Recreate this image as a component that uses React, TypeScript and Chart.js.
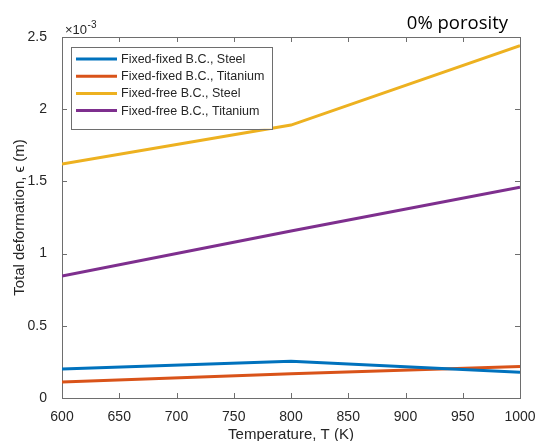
import React, { useEffect, useRef } from "react";
import { Chart, registerables } from "chart.js";

Chart.register(...registerables);

const temperatures = [600, 800, 1000];
const fixedFixedSteel = [0.2, 0.254, 0.178];
const fixedFixedTitanium = [0.111, 0.168, 0.219];
const fixedFreeSteel = [1.62, 1.89, 2.44];
const fixedFreeTitanium = [0.845, 1.157, 1.46];

const seriesLabels = [
  "Fixed-fixed B.C., Steel",
  "Fixed-fixed B.C., Titanium",
  "Fixed-free B.C., Steel",
  "Fixed-free B.C., Titanium",
];
const seriesColors = ["#0072BD", "#D95319", "#EDB120", "#7E2F8E"];
const xTicks = [600, 650, 700, 750, 800, 850, 900, 950, 1000];
const yTicks = [0, 0.5, 1, 1.5, 2, 2.5];

const AXIS_COLOR = "#262626";
const BOX_COLOR = "#6e6e6e";
const FONT = "'Liberation Sans', Arial, Helvetica, sans-serif";

const decorPlugin = {
  id: "decor",
  beforeDatasetsDraw(chart: any) {
    const { ctx, chartArea } = chart;
    const { left, right, top, bottom } = chartArea;
    ctx.save();
    ctx.strokeStyle = BOX_COLOR;
    ctx.lineWidth = 1;
    ctx.strokeRect(Math.round(left) + 0.5, Math.round(top) + 0.5, Math.round(right - left), Math.round(bottom - top));
    const xs = chart.scales.x;
    const ys = chart.scales.y;
    const tl = 5;
    ctx.beginPath();
    xs.ticks.forEach((_t: any, i: number) => {
      const px = Math.round(xs.getPixelForTick(i)) + 0.5;
      ctx.moveTo(px, bottom);
      ctx.lineTo(px, bottom - tl);
      ctx.moveTo(px, top);
      ctx.lineTo(px, top + tl);
    });
    ys.ticks.forEach((_t: any, i: number) => {
      const py = Math.round(ys.getPixelForTick(i)) + 0.5;
      ctx.moveTo(left, py);
      ctx.lineTo(left + tl, py);
      ctx.moveTo(right, py);
      ctx.lineTo(right - tl, py);
    });
    ctx.stroke();
    ctx.restore();
  },
  afterDraw(chart: any) {
    const { ctx, chartArea } = chart;
    const { left, right, top } = chartArea;
    ctx.save();
    // exponent label
    ctx.fillStyle = AXIS_COLOR;
    ctx.textBaseline = "alphabetic";
    ctx.textAlign = "left";
    ctx.font = `13px ${FONT}`;
    const base = "\u00d710";
    ctx.fillText(base, left + 3, top - 3);
    const w = ctx.measureText(base).width;
    ctx.font = `10px ${FONT}`;
    ctx.fillText("-3", left + 3 + w + 0.5, top - 9);

    // panel title
    ctx.font = `18.5px 'Open Sans', 'Noto Sans', sans-serif`;
    ctx.fillStyle = "#000000";
    ctx.textAlign = "right";
    ctx.fillText("0% porosity", right - 12, 29);

    // legend
    const datasets = chart.data.datasets;
    ctx.font = `12.5px ${FONT}`;
    let maxW = 0;
    datasets.forEach((d: any) => {
      maxW = Math.max(maxW, ctx.measureText(d.label).width);
    });
    const bx = left + 9;
    const by = top + 10;
    const rowH = 17.2;
    const bw = 50 + maxW + 8;
    const bh = 8 + rowH * datasets.length + 5;
    ctx.fillStyle = "#ffffff";
    ctx.fillRect(bx, by, bw, bh);
    ctx.strokeStyle = BOX_COLOR;
    ctx.lineWidth = 1;
    ctx.strokeRect(Math.round(bx) + 0.5, Math.round(by) + 0.5, Math.round(bw), Math.round(bh));
    ctx.textAlign = "left";
    ctx.textBaseline = "middle";
    datasets.forEach((d: any, i: number) => {
      const cy = by + 12 + i * rowH;
      ctx.strokeStyle = d.borderColor;
      ctx.lineWidth = 3;
      ctx.beginPath();
      ctx.moveTo(bx + 5, cy);
      ctx.lineTo(bx + 46, cy);
      ctx.stroke();
      ctx.fillStyle = AXIS_COLOR;
      ctx.fillText(d.label, bx + 50, cy + 0.5);
    });
    ctx.restore();
  },
};

export default function App() {
  const ref = useRef<HTMLCanvasElement | null>(null);

  useEffect(() => {
    document.body.style.margin = "0";
    const canvas = ref.current;
    if (!canvas) return;
    const series = [fixedFixedSteel, fixedFixedTitanium, fixedFreeSteel, fixedFreeTitanium];
    const chart = new Chart(canvas, {
      type: "line",
      data: {
        datasets: series.map((vals, i) => ({
          label: seriesLabels[i],
          data: temperatures.map((t, j) => ({ x: t, y: vals[j] })),
          borderColor: seriesColors[i],
          backgroundColor: seriesColors[i],
          borderWidth: 3,
          pointRadius: 0,
          fill: false,
          tension: 0,
        })),
      },
      options: {
        animation: false,
        responsive: false,
        maintainAspectRatio: false,
        events: [],
        layout: { padding: { left: 0, top: 37, right: 16, bottom: 0 } },
        plugins: {
          legend: { display: false },
          tooltip: { enabled: false },
          title: { display: false },
        },
        scales: {
          x: {
            type: "linear",
            min: 600,
            max: 1000,
            afterBuildTicks: (scale: any) => {
              scale.ticks = xTicks.map((v) => ({ value: v }));
            },
            afterFit: (scale: any) => {
              scale.height = 43;
              scale.paddingLeft = 0;
              scale.paddingRight = 0;
            },
            grid: { display: false },
            border: { display: false },
            ticks: {
              color: AXIS_COLOR,
              font: { family: FONT, size: 14 },
              padding: 3,
              maxRotation: 0,
              callback: (v: any) => String(v),
            },
            title: {
              display: true,
              text: "Temperature, T (K)",
              color: AXIS_COLOR,
              font: { family: FONT, size: 15, lineHeight: 1 },
              padding: { top: 0, bottom: -1.5 },
            },
          },
          y: {
            type: "linear",
            min: 0,
            max: 2.5,
            afterBuildTicks: (scale: any) => {
              scale.ticks = yTicks.map((v) => ({ value: v }));
            },
            afterFit: (scale: any) => {
              scale.width = 62;
              scale.paddingTop = 0;
              scale.paddingBottom = 0;
            },
            grid: { display: false },
            border: { display: false },
            ticks: {
              color: AXIS_COLOR,
              font: { family: FONT, size: 14 },
              padding: 7,
              callback: (v: any) => String(v),
            },
            title: {
              display: true,
              text: "Total deformation, \u03f5 (m)",
              color: AXIS_COLOR,
              font: { family: FONT, size: 15 },
              padding: { top: 11, bottom: 0 },
            },
          },
        },
      },
      plugins: [decorPlugin],
    });
    return () => chart.destroy();
  }, []);

  return (
    <div style={{ width: 536, height: 441 }}>
      <canvas ref={ref} width={536} height={441} style={{ display: "block" }} />
    </div>
  );
}
